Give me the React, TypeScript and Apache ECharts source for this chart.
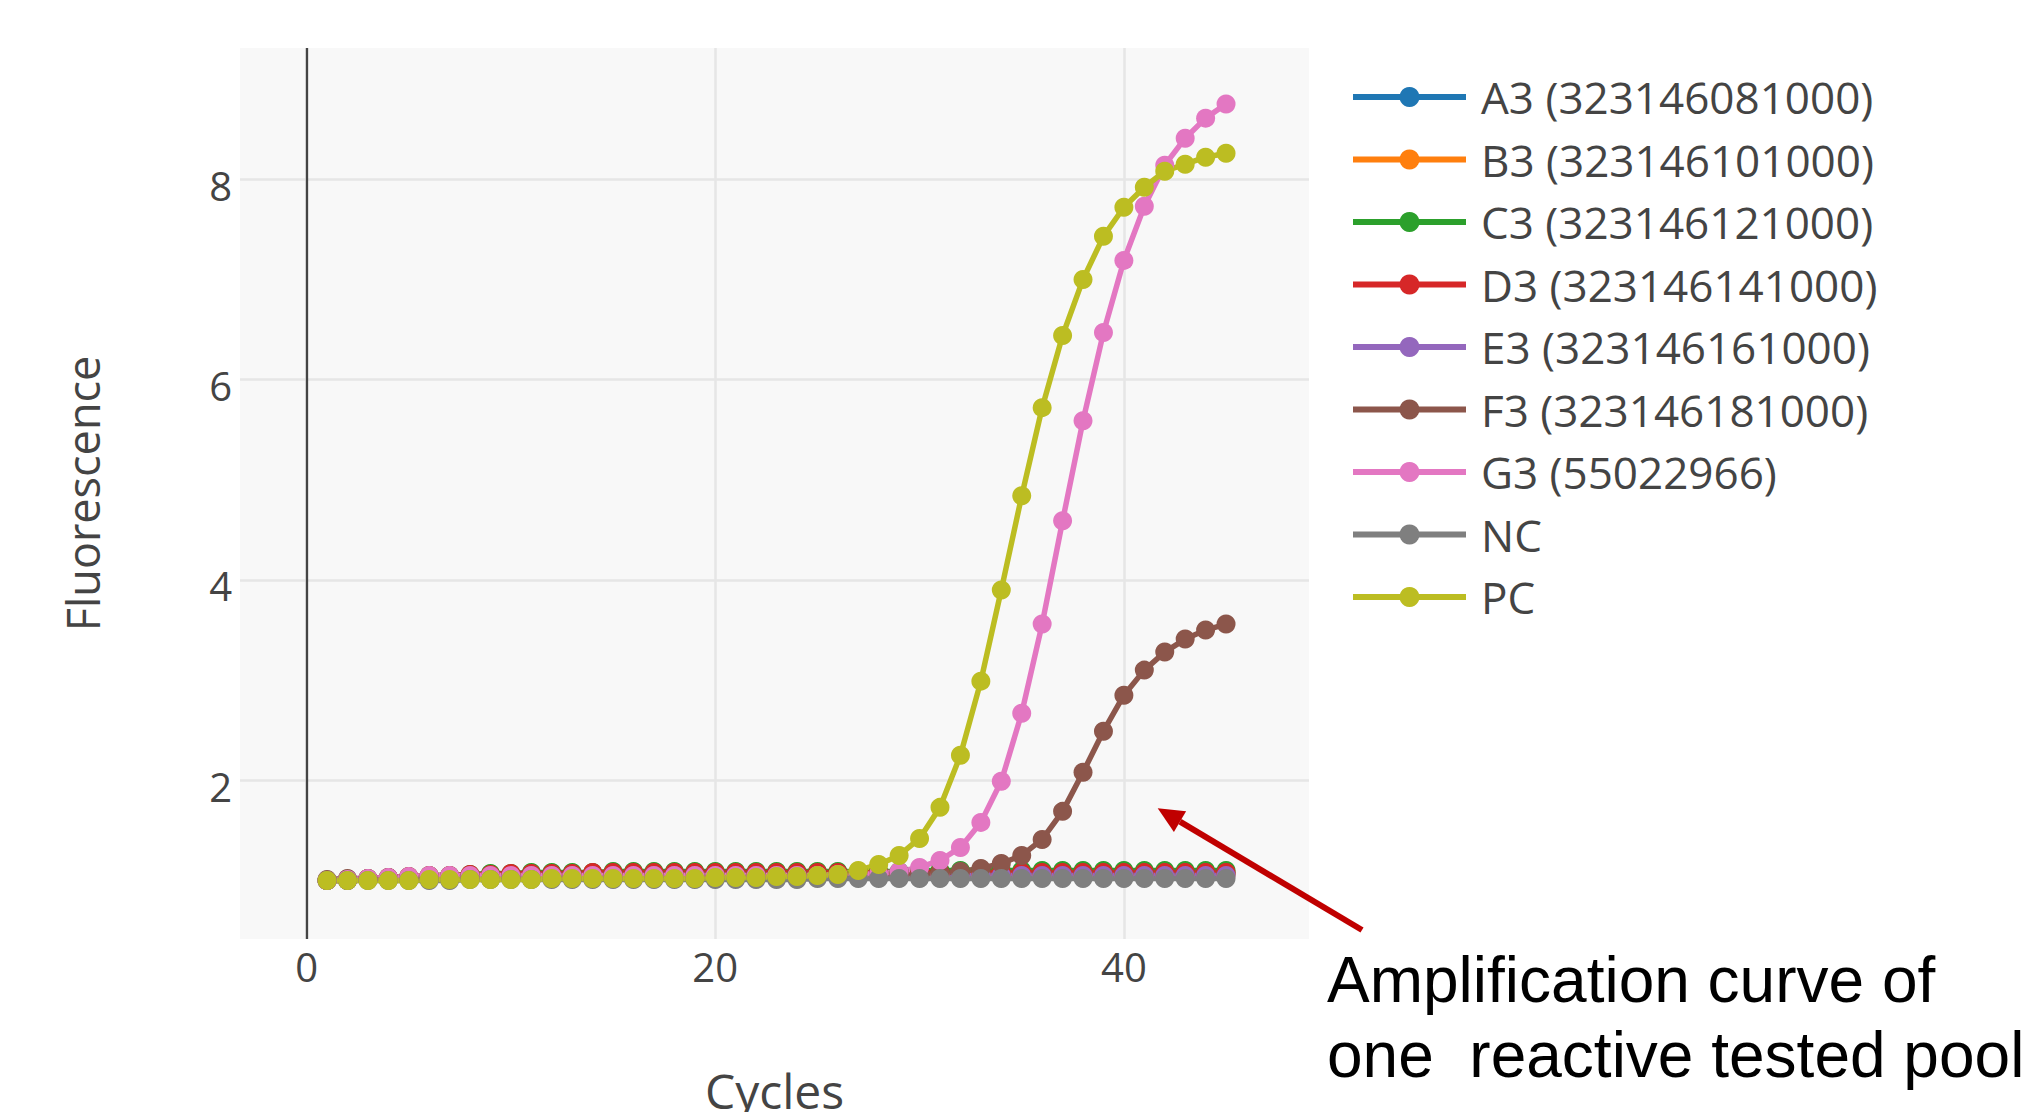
import React, { useEffect, useRef } from 'react';
import * as echarts from 'echarts';

const cycles = [
  1, 2, 3, 4, 5, 6, 7, 8, 9, 10, 11, 12, 13, 14, 15, 16, 17, 18, 19, 20, 21, 22, 23,
  24, 25, 26, 27, 28, 29, 30, 31, 32, 33, 34, 35, 36, 37, 38, 39, 40, 41, 42, 43, 44, 45,
];

const a3 = [
  1.00, 1.00, 1.01, 1.01, 1.02, 1.02, 1.03, 1.03, 1.03, 1.04,
  1.04, 1.04, 1.05, 1.05, 1.05, 1.05, 1.05, 1.06, 1.06, 1.06,
  1.06, 1.06, 1.06, 1.06, 1.06, 1.06, 1.07, 1.07, 1.07, 1.07,
  1.07, 1.07, 1.07, 1.07, 1.07, 1.07, 1.07, 1.07, 1.07, 1.07,
  1.07, 1.07, 1.07, 1.07, 1.07,
];
const b3 = [
  1.00, 1.00, 1.01, 1.01, 1.01, 1.02, 1.02, 1.03, 1.03, 1.03,
  1.04, 1.04, 1.04, 1.04, 1.05, 1.05, 1.05, 1.05, 1.05, 1.05,
  1.05, 1.06, 1.06, 1.06, 1.06, 1.06, 1.06, 1.06, 1.06, 1.06,
  1.06, 1.06, 1.06, 1.06, 1.06, 1.06, 1.06, 1.06, 1.06, 1.06,
  1.06, 1.06, 1.06, 1.06, 1.06,
];
const c3 = [
  1.00, 1.01, 1.02, 1.03, 1.04, 1.05, 1.05, 1.06, 1.07, 1.07,
  1.08, 1.08, 1.08, 1.08, 1.09, 1.09, 1.09, 1.09, 1.09, 1.09,
  1.09, 1.09, 1.09, 1.09, 1.09, 1.09, 1.09, 1.09, 1.09, 1.10,
  1.10, 1.10, 1.10, 1.10, 1.10, 1.10, 1.10, 1.10, 1.10, 1.10,
  1.10, 1.10, 1.10, 1.10, 1.10,
];
const d3 = [
  1.00, 1.01, 1.02, 1.03, 1.04, 1.05, 1.05, 1.06, 1.06, 1.07,
  1.07, 1.07, 1.07, 1.08, 1.08, 1.08, 1.08, 1.08, 1.08, 1.08,
  1.08, 1.08, 1.08, 1.08, 1.08, 1.08, 1.08, 1.08, 1.08, 1.08,
  1.08, 1.08, 1.08, 1.08, 1.08, 1.08, 1.08, 1.08, 1.08, 1.08,
  1.08, 1.08, 1.08, 1.08, 1.08,
];
const e3 = [
  1.00, 1.00, 1.01, 1.01, 1.02, 1.02, 1.02, 1.03, 1.03, 1.03,
  1.03, 1.04, 1.04, 1.04, 1.04, 1.04, 1.05, 1.05, 1.05, 1.05,
  1.05, 1.05, 1.05, 1.05, 1.05, 1.05, 1.05, 1.05, 1.05, 1.05,
  1.05, 1.05, 1.05, 1.05, 1.05, 1.05, 1.05, 1.05, 1.05, 1.05,
  1.05, 1.05, 1.05, 1.05, 1.05,
];
const f3 = [
  1.01, 1.02, 1.02, 1.03, 1.03, 1.03, 1.04, 1.04, 1.04, 1.04,
  1.05, 1.05, 1.05, 1.05, 1.05, 1.05, 1.05, 1.05, 1.05, 1.05,
  1.05, 1.05, 1.05, 1.05, 1.05, 1.05, 1.05, 1.05, 1.06, 1.06,
  1.07, 1.09, 1.12, 1.17, 1.25, 1.41, 1.69, 2.08, 2.49, 2.85,
  3.10, 3.28, 3.41, 3.50, 3.56,
];
const g3 = [
  1.00, 1.01, 1.02, 1.03, 1.04, 1.05, 1.05, 1.05, 1.05, 1.05,
  1.05, 1.05, 1.05, 1.05, 1.05, 1.05, 1.05, 1.05, 1.05, 1.05,
  1.05, 1.05, 1.05, 1.05, 1.05, 1.06, 1.06, 1.07, 1.09, 1.13,
  1.20, 1.33, 1.58, 1.99, 2.67, 3.56, 4.59, 5.59, 6.47, 7.19,
  7.73, 8.14, 8.41, 8.61, 8.75,
];
const nc = [
  1.00, 1.00, 1.00, 1.00, 1.00, 1.00, 1.00, 1.01, 1.01, 1.01,
  1.01, 1.01, 1.01, 1.01, 1.01, 1.01, 1.01, 1.01, 1.01, 1.01,
  1.01, 1.01, 1.01, 1.01, 1.02, 1.02, 1.02, 1.02, 1.02, 1.02,
  1.02, 1.02, 1.02, 1.02, 1.02, 1.02, 1.02, 1.02, 1.02, 1.02,
  1.02, 1.02, 1.02, 1.02, 1.02,
];
const pc = [
  1.00, 1.00, 1.00, 1.00, 1.00, 1.01, 1.01, 1.01, 1.01, 1.01,
  1.01, 1.02, 1.02, 1.02, 1.02, 1.02, 1.02, 1.02, 1.02, 1.03,
  1.03, 1.03, 1.04, 1.04, 1.05, 1.06, 1.10, 1.16, 1.25, 1.42,
  1.73, 2.25, 2.99, 3.90, 4.84, 5.72, 6.44, 7.00, 7.43, 7.72,
  7.92, 8.08, 8.15, 8.22, 8.26,
];

const seriesNames = [
  'A3 (323146081000)',
  'B3 (323146101000)',
  'C3 (323146121000)',
  'D3 (323146141000)',
  'E3 (323146161000)',
  'F3 (323146181000)',
  'G3 (55022966)',
  'NC',
  'PC',
];
const seriesValues = [a3, b3, c3, d3, e3, f3, g3, nc, pc];
const seriesColors = [
  '#1f77b4', '#ff7f0e', '#2ca02c', '#d62728', '#9467bd',
  '#8c564b', '#e377c2', '#7f7f7f', '#bcbd22',
];

const xRange = [-3.26, 49.06];
const yRange = [0.416, 9.31];
const xTitle = 'Cycles';
const yTitle = 'Fluorescence';
const noteLines = ['Amplification curve of', 'one \u00a0reactive tested pool'];

const FONT = '"Open Sans", "DejaVu Sans", sans-serif';

export default function App() {
  const ref = useRef<HTMLDivElement>(null);

  useEffect(() => {
    if (!ref.current) return;
    const chart = echarts.init(ref.current, undefined, { renderer: 'svg' });

    const series: any[] = seriesNames.map((name, i) => ({
      name,
      type: 'line',
      data: cycles.map((c, j) => [c, seriesValues[i][j]]),
      symbol: 'circle',
      symbolSize: 19,
      showSymbol: true,
      lineStyle: { width: 5.5, color: seriesColors[i] },
      itemStyle: { color: seriesColors[i] },
      emphasis: { disabled: true },
      ...(i === 0
        ? {
            markLine: {
              silent: true,
              symbol: ['none', 'none'],
              label: { show: false },
              lineStyle: { color: '#444', width: 2.3, type: 'solid' },
              data: [{ xAxis: 0 }],
            },
          }
        : {}),
    }));

    chart.setOption({
      animation: false,
      backgroundColor: '#ffffff',
      grid: {
        left: 240,
        right: 721,
        top: 48,
        bottom: 173,
        show: true,
        backgroundColor: '#f8f8f8',
        borderWidth: 0,
        containLabel: false,
        outerBoundsMode: 'none',
      },
      xAxis: {
        type: 'value',
        min: xRange[0],
        max: xRange[1],
        splitNumber: 3,
        name: xTitle,
        nameLocation: 'middle',
        nameGap: 127,
        nameTextStyle: { fontFamily: FONT, fontSize: 48, color: '#444' },
        axisLine: { show: false },
        axisTick: { show: false },
        axisLabel: {
          fontFamily: FONT,
          fontSize: 40,
          color: '#444',
          margin: 7,
          showMinLabel: false,
          showMaxLabel: false,
        },
        splitLine: {
          show: true,
          showMinLine: false,
          showMaxLine: false,
          lineStyle: { color: '#e6e6e6', width: 2.5 },
        },
      },
      yAxis: {
        type: 'value',
        min: yRange[0],
        max: yRange[1],
        splitNumber: 5,
        name: yTitle,
        nameLocation: 'middle',
        nameGap: 135,
        nameTextStyle: { fontFamily: FONT, fontSize: 45, color: '#444' },
        axisLine: { show: false },
        axisTick: { show: false },
        axisLabel: {
          color: '#444',
          margin: 8,
          showMinLabel: false,
          showMaxLabel: false,
          formatter: (v: number) => `{t|${v}}`,
          rich: {
            t: {
              fontFamily: FONT,
              fontSize: 40,
              color: '#444',
              padding: [12, 0, 0, 0],
            },
          },
        },
        splitLine: {
          show: true,
          showMinLine: false,
          showMaxLine: false,
          lineStyle: { color: '#e6e6e6', width: 2.5 },
        },
      },
      legend: {
        orient: 'vertical',
        left: 1345,
        top: 70,
        itemWidth: 113,
        itemHeight: 25,
        itemGap: 18.5,
        selectedMode: false,
        lineStyle: { width: 6 },
        textStyle: {
          fontFamily: FONT,
          fontSize: 44,
          color: '#444',
          padding: [0, 0, 0, 10],
        },
        data: seriesNames,
      },
      graphic: [
        {
          type: 'line',
          silent: true,
          shape: { x1: 1362, y1: 930, x2: 1180, y2: 821.6 },
          style: { stroke: '#c00000', lineWidth: 6 },
        },
        {
          type: 'polygon',
          silent: true,
          shape: {
            points: [
              [1157.7, 808.3],
              [1186.1, 811.3],
              [1173.9, 831.9],
            ],
          },
          style: { fill: '#c00000' },
        },
        {
          type: 'text',
          silent: true,
          x: 1327,
          y: 980,
          style: {
            text: noteLines[0],
            fontSize: 64,
            fontFamily: '"Liberation Sans", Arial, sans-serif',
            fill: '#000000',
            align: 'left',
            verticalAlign: 'middle',
          },
        },
        {
          type: 'text',
          silent: true,
          x: 1327,
          y: 1055,
          style: {
            text: noteLines[1],
            fontSize: 64,
            fontFamily: '"Liberation Sans", Arial, sans-serif',
            fill: '#000000',
            align: 'left',
            verticalAlign: 'middle',
          },
        },
      ],
      series,
    });

    return () => {
      chart.dispose();
    };
  }, []);

  return (
    <div
      ref={ref}
      style={{ position: 'fixed', left: 0, top: 0, width: 2030, height: 1112 }}
    />
  );
}
